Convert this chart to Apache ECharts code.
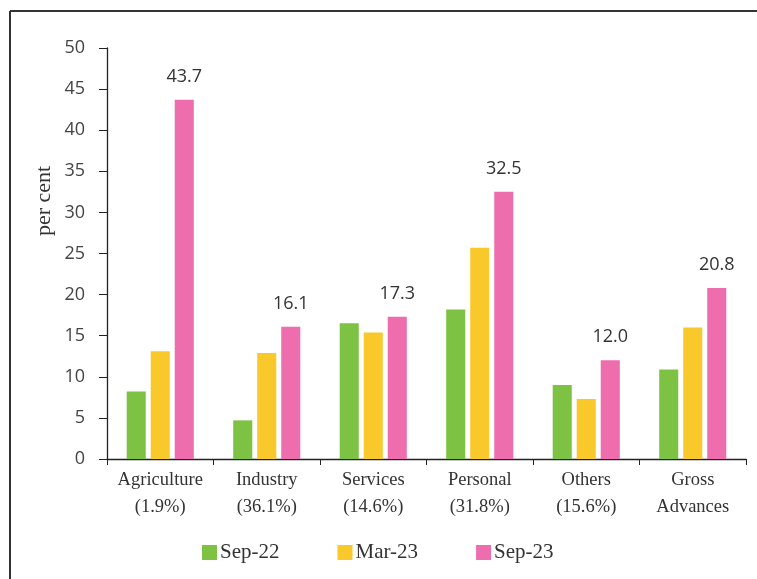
<!DOCTYPE html>
<html>
<head>
<meta charset="utf-8">
<script src="https://cdn.jsdelivr.net/npm/echarts@6/dist/echarts.min.js"></script>
<style>
html,body{margin:0;padding:0;background:#fff;}
#chart{width:757px;height:579px;}
</style>
</head>
<body>
<div id="chart"></div>
<script>
const categories = ['Agriculture\n(1.9%)', 'Industry\n(36.1%)', 'Services\n(14.6%)', 'Personal\n(31.8%)', 'Others\n(15.6%)', 'Gross\nAdvances'];
const seriesNames = ['Sep-22', 'Mar-23', 'Sep-23'];
const sep22 = [8.2, 4.7, 16.5, 18.2, 9.0, 10.9];
const mar23 = [13.1, 12.9, 15.4, 25.7, 7.3, 16.0];
const sep23 = [43.7, 16.1, 17.3, 32.5, 12.0, 20.8];
const yTicks = [0, 5, 10, 15, 20, 25, 30, 35, 40, 45, 50];

const colors = ['#7dc243', '#f9c82b', '#ee6ead'];
const serif = 'Liberation Serif';
const sans = 'Open Sans';

const chart = echarts.init(document.getElementById('chart'), null, {renderer: 'canvas'});
chart.setOption({
  animation: false,
  backgroundColor: '#fff',
  color: colors,
  grid: {left: 107, right: 11, top: 48, bottom: 120, containLabel: false},
  legend: {
    data: seriesNames,
    top: 537,
    left: 197,
    itemWidth: 15,
    itemHeight: 15,
    itemGap: 58,
    icon: 'rect',
    textStyle: {fontFamily: serif, fontSize: 21, color: '#333', padding: [0, 0, 0, -2]}
  },
  xAxis: {
    type: 'category',
    data: categories,
    axisLine: {lineStyle: {color: '#222', width: 1.3}},
    axisTick: {show: true, interval: 0, length: 6, lineStyle: {color: '#222'}},
    axisLabel: {interval: 0, hideOverlap: false, fontFamily: serif, fontSize: 18.5, color: '#333', lineHeight: 27, margin: 8},
    splitLine: {show: false}
  },
  yAxis: {
    type: 'value',
    min: yTicks[0],
    max: yTicks[yTicks.length - 1],
    interval: 5,
    axisLine: {show: true, lineStyle: {color: '#222', width: 1.3}},
    axisTick: {show: true, length: 8, lineStyle: {color: '#222'}},
    axisLabel: {fontFamily: sans, fontSize: 18, color: '#444', margin: 22},
    splitLine: {show: false}
  },
  graphic: [
    {type: 'line', shape: {x1: 10, y1: 11, x2: 757, y2: 11}, style: {stroke: '#333', lineWidth: 2}},
    {type: 'line', shape: {x1: 10, y1: 11, x2: 10, y2: 579}, style: {stroke: '#333', lineWidth: 2}},
    {type: 'text', x: 44, y: 201, rotation: Math.PI / 2, style: {text: 'per cent', font: '22px "Liberation Serif"', fill: '#333', textAlign: 'center', textVerticalAlign: 'middle'}}
  ],
  series: [
    {name: seriesNames[0], type: 'bar', data: sep22, barGap: '26%', barCategoryGap: '37%'},
    {name: seriesNames[1], type: 'bar', data: mar23, barGap: '26%', barCategoryGap: '37%'},
    {name: seriesNames[2], type: 'bar', data: sep23, barGap: '26%', barCategoryGap: '37%',
      label: {show: true, position: 'top', distance: 14, fontFamily: sans, fontSize: 18, color: '#333',
        formatter: p => p.value.toFixed(1)}}
  ]
});
</script>
</body>
</html>
